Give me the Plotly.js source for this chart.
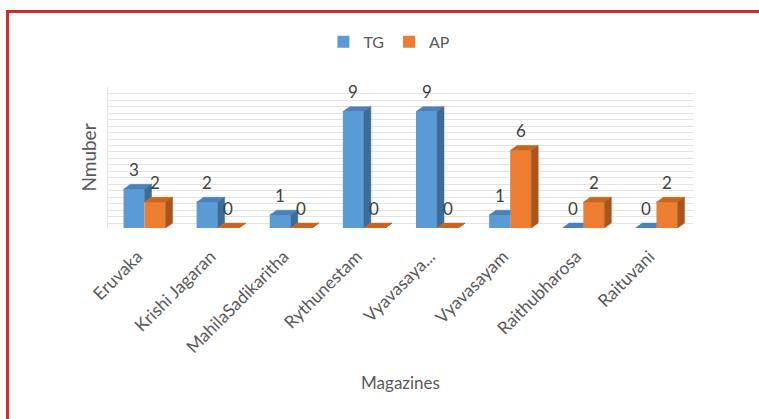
<!DOCTYPE html>
<html>
<head>
<meta charset="utf-8">
<script src="https://cdn.plot.ly/plotly-3.0.1.min.js"></script>
<style>
  html, body { margin: 0; padding: 0; width: 759px; height: 419px; overflow: hidden; background: #fff; }
  #chart { position: absolute; left: 0; top: 0; width: 759px; height: 419px; }
  #frame { position: absolute; left: 6px; top: 10px; width: 900px; height: 600px;
           border-top: 3px solid #d42a2a; border-left: 3px solid #d42a2a; pointer-events: none; }
</style>
</head>
<body>
<div id="chart"></div>
<div id="frame"></div>
<script>
// ---- data ----
const categories = ['Eruvaka', 'Krishi Jagaran', 'MahilaSadikaritha', 'Rythunestam', 'Vyavasaya...', 'Vyavasayam', 'Raithubharosa', 'Raituvani'];
const seriesNames = ['TG', 'AP'];
const tgValues = [3, 2, 1, 9, 9, 1, 0, 0];
const apValues = [2, 0, 0, 0, 0, 6, 2, 2];

// ---- style ----
const W = 0.288;   // bar width (category units)
const DX = 0.095;  // depth offset x (category units)
const DY = 0.38;   // depth offset y (value units)
const colors = {
  tgFront: '#5b9bd5', tgTop: '#4a82b9', tgSide: '#3d6c98',
  apFront: '#ed7d31', apTop: '#c8661f', apSide: '#a9541a'
};
const txt = '#595959';
const idx = categories.map((_, i) => i);
const tgX = idx.map(i => i - W / 2);
const apX = idx.map(i => i + W / 2);

function poly(list) {
  const xs = [], ys = [];
  list.forEach(p => { p.forEach(pt => { xs.push(pt[0]); ys.push(pt[1]); }); xs.push(p[0][0]); ys.push(p[0][1]); xs.push(null); ys.push(null); });
  return { x: xs, y: ys };
}

const tgTop = [], tgSide = [], apTop = [], apSide = [];
idx.forEach(i => {
  const vT = tgValues[i], vA = apValues[i];
  const xl = i - W, xe = i, xr = i + W;
  if (vA > vT) tgTop.push([[xl, vT], [xl + DX, vT + DY], [xe, vT + DY], [xe, vT]]);
  else tgTop.push([[xl, vT], [xl + DX, vT + DY], [xe + DX, vT + DY], [xe, vT]]);
  if (vT > vA) tgSide.push([[xe, vA], [xe + DX, vA + DY], [xe + DX, vT + DY], [xe, vT]]);
  apTop.push([[xe, vA], [xe + DX, vA + DY], [xr + DX, vA + DY], [xr, vA]]);
  apSide.push([[xr, 0], [xr + DX, DY], [xr + DX, vA + DY], [xr, vA]]);
});

function face(list, color) {
  const p = poly(list);
  return { type: 'scatter', mode: 'lines', x: p.x, y: p.y, fill: 'toself', fillcolor: color,
           line: { width: 0.5, color: color }, showlegend: false, hoverinfo: 'skip' };
}

const traces = [
  { type: 'bar', name: seriesNames[0], x: tgX, y: tgValues, width: W, marker: { color: colors.tgFront, line: { width: 0 } } },
  { type: 'bar', name: seriesNames[1], x: apX, y: apValues, width: W, marker: { color: colors.apFront, line: { width: 0 } } },
  face(tgTop, colors.tgTop),
  face(tgSide, colors.tgSide),
  face(apTop, colors.apTop),
  face(apSide, colors.apSide)
];

const annotations = [];
idx.forEach(i => {
  annotations.push({ x: tgX[i], y: tgValues[i], text: String(tgValues[i]), showarrow: false, yanchor: 'middle', yshift: 20, font: { size: 17, color: '#404040' } });
  annotations.push({ x: apX[i], y: apValues[i], text: String(apValues[i]), showarrow: false, yanchor: 'middle', yshift: 20, font: { size: 17, color: '#404040' } });
});

const layout = {
  width: 759, height: 419,
  margin: { l: 108, r: 66, t: 87, b: 191 },
  paper_bgcolor: '#ffffff', plot_bgcolor: '#ffffff',
  font: { family: 'Lato, "Open Sans", sans-serif', color: txt },
  barmode: 'overlay',
  showlegend: true,
  legend: { orientation: 'h', x: 0.481, xanchor: 'center', y: 1.32, yanchor: 'middle', itemwidth: 30, font: { size: 16, color: txt }, traceorder: 'normal' },
  xaxis: {
    range: [-0.5, 7.5], tickmode: 'array', tickvals: idx, ticktext: categories,
    tickangle: -45, tickfont: { size: 17.5, color: txt }, ticklabelshift: -7, ticklabelstandoff: 14,
    showgrid: false, zeroline: false, showline: false, ticks: '',
    title: { text: 'Magazines', font: { size: 17, color: txt }, standoff: 20 },
    automargin: false, fixedrange: true
  },
  yaxis: {
    range: [0, 10.9], tick0: DY, dtick: 0.5, showticklabels: false, ticks: '',
    showgrid: true, gridcolor: '#e3e3e3', gridwidth: 1, zeroline: false,
    showline: true, linecolor: '#e3e3e3',
    title: { text: 'Nmuber', font: { size: 19, color: txt }, standoff: 5 },
    automargin: false, fixedrange: true
  },
  annotations: annotations
};

Plotly.newPlot('chart', traces, layout, { displayModeBar: false, staticPlot: true });
</script>
</body>
</html>
